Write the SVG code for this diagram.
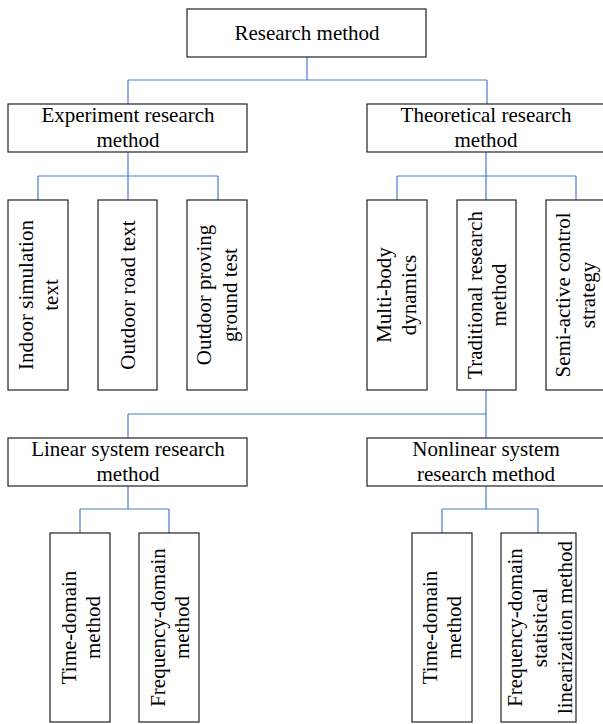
<svg xmlns="http://www.w3.org/2000/svg" width="603" height="724" viewBox="0 0 603 724">
<style>
.box{fill:#fff;stroke:#222;stroke-width:1.2}
.t{font-family:"Liberation Serif","Times New Roman",serif;font-size:21px;fill:#000;text-anchor:middle}
.c{fill:none;stroke:#4a7cc8;stroke-width:1.2}
</style>
<rect width="603" height="724" fill="#fff"/>
<g id="connectors">
<path class="c" d="M307 57V80M128 80H487M128 80V104M487 80V104"/>
<path class="c" d="M128 152V176M38 176H218M38 176V200M128 176V200M218 176V200"/>
<path class="c" d="M486 152V176M397 176H576M397 176V200M486 176V200M576 176V200"/>
<path class="c" d="M486 390V414M128 414H486M128 414V438M486 414V438"/>
<path class="c" d="M128 486V509M80 509H169M80 509V533M169 509V533"/>
<path class="c" d="M486 486V509M442 509H538M442 509V533M538 509V533"/>
</g>
<g id="research-method"><rect class="box" x="187" y="9" width="239" height="48"/><text class="t" x="307" y="40">Research method</text></g>
<g id="experiment"><rect class="box" x="8" y="104" width="239" height="48"/><text class="t" x="128" y="122">Experiment research</text><text class="t" x="128" y="147">method</text></g>
<g id="theoretical"><rect class="box" x="367" y="104" width="239" height="48"/><text class="t" x="486" y="122">Theoretical research</text><text class="t" x="486" y="147">method</text></g>
<g id="indoor"><rect class="box" x="8" y="200" width="60" height="190"/><g transform="translate(38,295) rotate(-90)"><text class="t" y="-5">Indoor simulation</text><text class="t" y="20">text</text></g></g>
<g id="outdoor-road"><rect class="box" x="98" y="200" width="59" height="190"/><g transform="translate(127.5,295) rotate(-90)"><text class="t" y="7.5">Outdoor road text</text></g></g>
<g id="outdoor-proving"><rect class="box" x="187" y="200" width="60" height="190"/><g transform="translate(217,295) rotate(-90)"><text class="t" y="-6">Outdoor proving</text><text class="t" y="19.5">ground test</text></g></g>
<g id="multibody"><rect class="box" x="367" y="200" width="60" height="190"/><g transform="translate(397,295) rotate(-90)"><text class="t" y="-6">Multi-body</text><text class="t" y="19">dynamics</text></g></g>
<g id="traditional"><rect class="box" x="457" y="200" width="59" height="190"/><g transform="translate(486.5,295) rotate(-90)"><text class="t" y="-5">Traditional research</text><text class="t" y="19">method</text></g></g>
<g id="semiactive"><rect class="box" x="546" y="200" width="60" height="190"/><g transform="translate(576,295) rotate(-90)"><text class="t" y="-6">Semi-active control</text><text class="t" y="19">strategy</text></g></g>
<g id="linear"><rect class="box" x="8" y="438" width="239" height="48"/><text class="t" x="128" y="456">Linear system research</text><text class="t" x="128" y="481">method</text></g>
<g id="nonlinear"><rect class="box" x="367" y="438" width="239" height="48"/><text class="t" x="486" y="456">Nonlinear system</text><text class="t" x="486" y="481">research method</text></g>
<g id="lin-time"><rect class="box" x="50" y="533" width="60" height="189"/><g transform="translate(80,627.5) rotate(-90)"><text class="t" y="-4">Time-domain</text><text class="t" y="20">method</text></g></g>
<g id="lin-freq"><rect class="box" x="139" y="533" width="60" height="189"/><g transform="translate(169,627.5) rotate(-90)"><text class="t" y="-4">Frequency-domain</text><text class="t" y="20">method</text></g></g>
<g id="nl-time"><rect class="box" x="412" y="533" width="60" height="189"/><g transform="translate(442,627.5) rotate(-90)"><text class="t" y="-5">Time-domain</text><text class="t" y="19">method</text></g></g>
<g id="nl-freq"><rect class="box" x="501" y="533" width="75" height="189"/><g transform="translate(538.5,627.5) rotate(-90)"><text class="t" y="-17">Frequency-domain</text><text class="t" y="8">statistical</text><text class="t" y="33">linearization method</text></g></g>
</svg>
